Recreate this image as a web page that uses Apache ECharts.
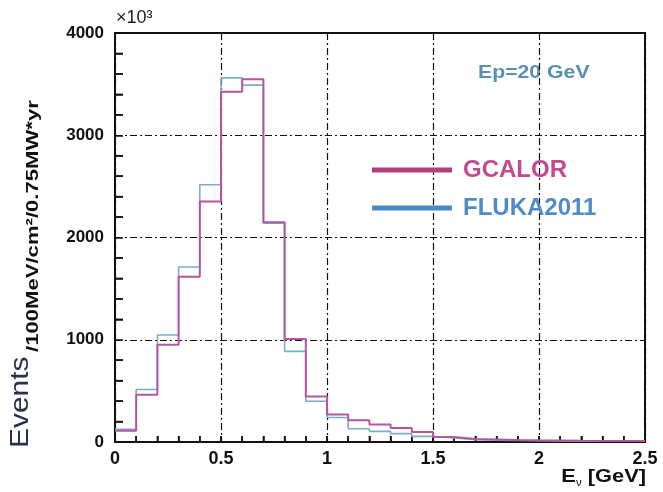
<!DOCTYPE html>
<html>
<head>
<meta charset="utf-8">
<script src="https://cdn.jsdelivr.net/npm/echarts@6/dist/echarts.min.js"></script>
<style>
    html, body {margin:0; padding:0; background:#fff;}
    #histChart {width:663px; height:492px;}
</style>
</head>
<body>
<div id="histChart"></div>
<script>
// bin left edges (GeV), last one is the right end of the histogram
var binEdges = [0, 0.1, 0.2, 0.3, 0.4, 0.5, 0.6, 0.7, 0.8, 0.9, 1.0, 1.1, 1.2,
    1.3, 1.4, 1.5, 1.6, 1.7, 1.8, 1.9, 2.0, 2.1, 2.2, 2.3, 2.4, 2.5];
// events per bin (x10^3)
var gcalorValues = [110, 461, 951, 1617, 2353, 3425, 3548, 2150, 1007, 445, 270, 213,
    172, 136, 97, 49, 30, 25, 20, 16, 14, 12, 11, 10, 10];
var flukaValues = [125, 513, 1046, 1711, 2516, 3561, 3490, 2140, 886, 399, 240, 130,
    104, 82, 55, 39, 22, 18, 15, 12, 10, 9, 8, 8, 7];
var yTicks = [0, 1000, 2000, 3000, 4000];
var yMinorTicks = [200, 400, 600, 800, 1200, 1400, 1600, 1800, 2200, 2400, 2600, 2800,
    3200, 3400, 3600, 3800];
var xTicks = [0, 0.5, 1, 1.5, 2, 2.5];

// 把每个bin的左边界和值拼成阶梯线的点
function toSteps(values) {
    var pts = [];
    for (var i = 0; i < values.length; i++) {
        pts.push([binEdges[i], values[i]]);
    }
    pts.push([binEdges[binEdges.length - 1], values[values.length - 1]]);
    return pts;
}
function isMajor(v, list) {
    for (var i = 0; i < list.length; i++) {
        if (Math.abs(v - list[i]) < 1e-6) return true;
    }
    return false;
}

var gridDash = {color: '#111', width: 1.2, type: [7, 3, 2, 3]};
var tickStyle = {color: '#111', width: 1.5};

// 内侧小刻度, 用custom系列画
function tickRender(dir, len) {
    return function (params, api) {
        var p = api.coord([api.value(0), api.value(1)]);
        var x2 = dir === 'x' ? p[0] : p[0] + len;
        var y2 = dir === 'x' ? p[1] - len : p[1];
        return {
            type: 'line',
            shape: {x1: p[0], y1: p[1], x2: x2, y2: y2},
            style: {stroke: '#111', lineWidth: 1.5}
        };
    };
}

var histChart = echarts.init(document.getElementById('histChart'));
var histChartOption = {
    animation: false,
    backgroundColor: '#fff',
    grid: {
        left: 115,
        right: 18,
        top: 33,
        bottom: 50,
        outerBoundsMode: 'none',
        show: true,
        borderColor: '#111',
        borderWidth: 2
    },
    legend: {
        orient: 'vertical',
        left: 367,
        top: 153,
        itemWidth: 80,
        itemHeight: 5,
        itemGap: 14,
        icon: 'rect',
        textStyle: {fontSize: 24, fontWeight: 'bold', fontFamily: 'Liberation Sans', padding: [0, 0, 0, 6]},
        data: [
            {name: 'GCALOR', itemStyle: {color: '#b2407f'}, textStyle: {color: '#c24a8f'}},
            {name: 'FLUKA2011', itemStyle: {color: '#4a88c8'}, textStyle: {color: '#4f8cc6'}}
        ]
    },
    xAxis: [
        {
            type: 'value',
            min: 0,
            max: 2.5,
            interval: 0.1,
            axisLine: {show: true, lineStyle: {color: '#111', width: 2}},
            axisTick: {show: true, inside: true, length: 6, lineStyle: tickStyle},
            axisLabel: {
                color: '#111', fontSize: 18, fontWeight: 'bold', fontFamily: 'Liberation Sans', margin: 8,
                formatter: function (v) {
                    return isMajor(v, xTicks) ? String(Math.round(v * 10) / 10) : '';
                }
            },
            splitLine: {show: false}
        },
        {
            // 只画网格线
            type: 'value',
            min: 0,
            max: 2.5,
            interval: 0.5,
            position: 'bottom',
            axisLine: {show: false},
            axisTick: {show: false},
            axisLabel: {show: false},
            splitLine: {show: true, lineStyle: gridDash}
        }
    ],
    yAxis: [
        {
            type: 'value',
            min: yTicks[0],
            max: yTicks[yTicks.length - 1],
            interval: 200,
            axisLine: {show: true, lineStyle: {color: '#111', width: 2}},
            axisTick: {show: true, inside: true, length: 8, lineStyle: tickStyle},
            axisLabel: {
                color: '#111', fontSize: 17, fontWeight: 'bold', fontFamily: 'Liberation Sans', margin: 11,
                formatter: function (v) {
                    return isMajor(v, yTicks) ? String(v) : '';
                }
            },
            splitLine: {show: false}
        },
        {
            type: 'value',
            min: yTicks[0],
            max: yTicks[yTicks.length - 1],
            interval: 1000,
            position: 'left',
            axisLine: {show: false},
            axisTick: {show: false},
            axisLabel: {show: false},
            splitLine: {show: true, lineStyle: gridDash}
        }
    ],
    graphic: [
        {
            type: 'text',
            left: 116,
            top: 9,
            style: {text: '×10³', fill: '#222', font: '18px "Liberation Sans"'}
        },
        {
            type: 'text',
            x: 478,
            y: 73,
            scaleX: 1.18,
            style: {text: 'Ep=20 GeV', fill: '#5a8fb0', font: 'bold 18px "Liberation Sans"', textVerticalAlign: 'middle'}
        },
        {
            // y轴标题
            type: 'text',
            x: 21,
            y: 448,
            rotation: Math.PI / 2,
            scaleX: 1.15,
            style: {text: 'Events', fill: '#27314d', font: '26px "Liberation Sans"', textAlign: 'left', textVerticalAlign: 'middle'}
        },
        {
            type: 'text',
            x: 33,
            y: 352,
            rotation: Math.PI / 2,
            scaleX: 1.3,
            style: {text: '/100MeV/cm²/0.75MW*yr', fill: '#111', font: 'bold 17px "Liberation Sans"', textAlign: 'left', textVerticalAlign: 'middle'}
        },
        {
            // x轴标题
            type: 'text',
            x: 646,
            y: 477,
            scaleX: 1.15,
            style: {
                text: '{b|E}{s|ν}{b| [GeV]}',
                textAlign: 'right',
                textVerticalAlign: 'middle',
                rich: {
                    b: {fontSize: 19, fontWeight: 'bold', fontFamily: 'Liberation Sans', fill: '#111', color: '#111', lineHeight: 22},
                    s: {fontSize: 10, fontFamily: 'Liberation Sans', fill: '#111', color: '#111', verticalAlign: 'bottom', lineHeight: 22}
                }
            }
        }
    ],
    series: [
        {
            name: 'FLUKA2011',
            type: 'line',
            step: 'end',
            symbol: 'none',
            data: toSteps(flukaValues),
            lineStyle: {color: '#7aaec0', width: 1.6},
            itemStyle: {color: '#4a88c8'}
        },
        {
            name: 'GCALOR',
            type: 'line',
            step: 'end',
            symbol: 'none',
            data: toSteps(gcalorValues),
            lineStyle: {color: '#b556a0', width: 2},
            itemStyle: {color: '#b2407f'}
        },
        {
            name: 'xTicks',
            type: 'custom',
            silent: true,
            renderItem: tickRender('x', 6),
            data: binEdges.map(function (v) { return [v, 0]; })
        },
        {
            name: 'yTicks',
            type: 'custom',
            silent: true,
            renderItem: tickRender('y', 8),
            data: yMinorTicks.map(function (v) { return [0, v]; })
        }
    ]
};
histChart.setOption(histChartOption);
window.onresize = histChart.resize;
</script>
</body>
</html>
